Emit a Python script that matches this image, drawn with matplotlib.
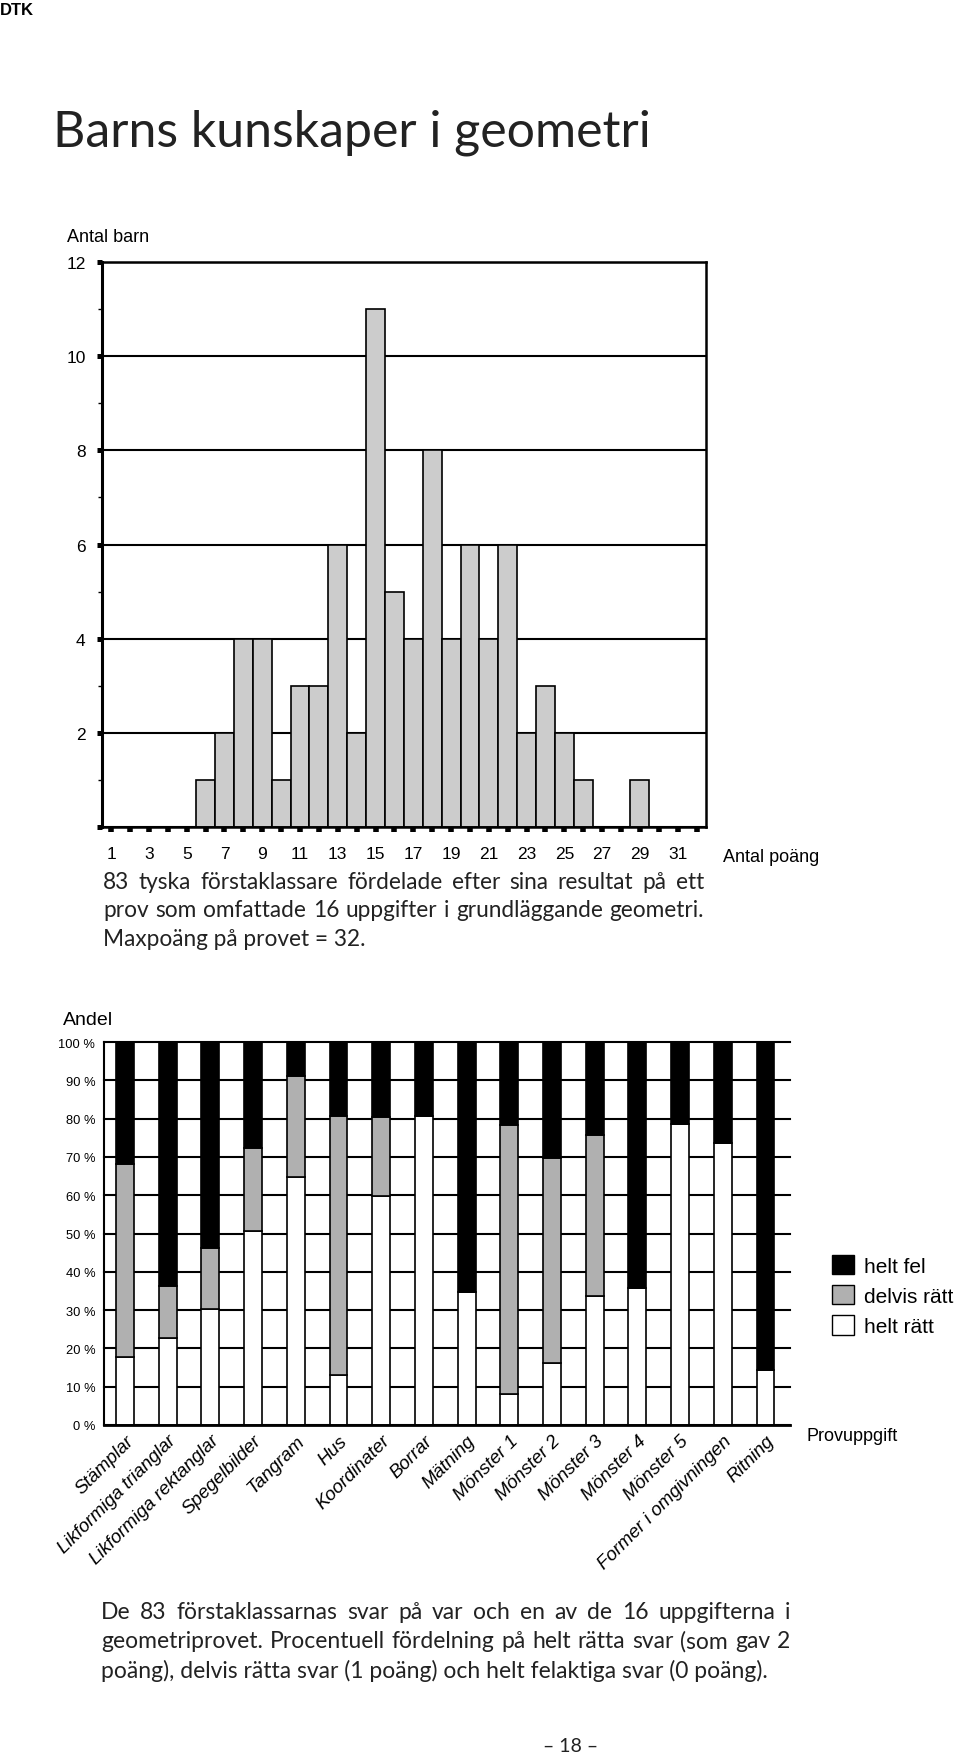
import matplotlib
matplotlib.use("Agg")
import matplotlib.pyplot as plt
from matplotlib.patches import Patch

W, H = 960, 1758

# --- data: top chart (number of children per score slot 1..32)
score_slots = list(range(1, 33))
children = [0, 0, 0, 0, 0, 1, 2, 4, 4, 1, 3, 3, 6, 2, 11, 5,
            4, 8, 4, 6, 4, 6, 2, 3, 2, 1, 0, 0, 1, 0, 0, 0]
score_labels = [str(s) if s % 2 == 1 else "" for s in score_slots]
count_ticks = [0, 2, 4, 6, 8, 10, 12]
count_labels = ["", "2", "4", "6", "8", "10", "12"]

# --- data: bottom chart (percent per task)
tasks = ["Stämplar", "Likformiga trianglar", "Likformiga rektanglar", "Spegelbilder",
         "Tangram", "Hus", "Koordinater", "Borrar", "Mätning", "Mönster 1",
         "Mönster 2", "Mönster 3", "Mönster 4", "Mönster 5",
         "Former i omgivningen", "Ritning"]
helt_ratt = [17.8, 22.8, 30.2, 50.7, 64.7, 13.0, 59.8, 80.8,
             34.8, 8.1, 16.1, 33.8, 35.7, 78.7, 73.7, 14.4]
delvis_ratt = [50.3, 13.6, 16.0, 21.6, 26.4, 67.6, 20.5, 0.0,
               0.0, 70.2, 53.5, 42.0, 0.0, 0.0, 0.0, 0.0]
helt_fel = [100 - a - b for a, b in zip(helt_ratt, delvis_ratt)]
pct_ticks = list(range(0, 101, 10))
pct_labels = [f"{p} %" for p in pct_ticks]

caption1 = ["83 tyska förstaklassare fördelade efter sina resultat på ett",
            "prov som omfattade 16 uppgifter i grundläggande geometri.",
            "Maxpoäng på provet = 32."]
caption2 = ["De 83 förstaklassarnas svar på var och en av de 16 uppgifterna i",
            "geometriprovet. Procentuell fördelning på helt rätta svar (som gav 2",
            "poäng), delvis rätta svar (1 poäng) och helt felaktiga svar (0 poäng)."]

ARIAL = "Liberation Sans"
GILL = "Lato"

fig = plt.figure(figsize=(W / 100, H / 100), dpi=100)
fig.patch.set_facecolor("white")


def fx(px):
    return px / W


def fy(py):
    return 1 - py / H


def justify(lines, x0, x1, y0, step, size):
    renderer = fig.canvas.get_renderer()
    for i, line in enumerate(lines):
        y = fy(y0 + i * step)
        words = line.split(" ")
        if i == len(lines) - 1:
            fig.text(fx(x0), y, line, family=GILL, fontsize=size, va="baseline", color="#222222")
            continue
        arts = [fig.text(0, y, w, family=GILL, fontsize=size, va="baseline", color="#222222")
                for w in words]
        widths = [a.get_window_extent(renderer).width for a in arts]
        gap = (x1 - x0 - sum(widths)) / (len(words) - 1)
        x = x0
        for a, w in zip(arts, widths):
            a.set_x(fx(x))
            x += w + gap


# header + title
fig.text(0.0, fy(15), "DTK", family=ARIAL, fontweight="bold", fontsize=12, va="baseline")
fig.text(fx(53), fy(146), "Barns kunskaper i geometri", family=GILL, fontsize=36, va="baseline",
         color="#222222")

# ---------------- top chart
ax1 = fig.add_axes([fx(101.7), fy(828), fx(706 - 101.7), (828 - 263) / H])
ax1.set_axisbelow(True)
ax1.bar(score_slots, children, width=1.0, color="#cccccc", edgecolor="black", linewidth=1.2)
ax1.set_xlim(0.5, 32.5)
ax1.set_ylim(0, 12)
ax1.set_yticks(count_ticks)
ax1.set_yticklabels(count_labels, family=ARIAL, fontsize=12.5)
ax1.set_yticks([1, 3, 5, 7, 9, 11], minor=True)
ax1.set_xticks(score_slots)
ax1.set_xticklabels(score_labels, family=ARIAL, fontsize=12.5)
ax1.tick_params(axis="y", which="major", length=3.6, width=3.6, pad=8)
ax1.tick_params(axis="y", which="minor", length=3, width=1)
ax1.tick_params(axis="x", which="major", length=3.8, width=4, pad=10)
ax1.yaxis.grid(True, color="black", linewidth=1.5)
for s in ax1.spines.values():
    s.set_linewidth(1.8)
ax1.spines["left"].set_linewidth(2.2)
fig.text(fx(67), fy(242), "Antal barn", family=ARIAL, fontsize=13, va="baseline")
fig.text(fx(723), fy(862), "Antal poäng", family=ARIAL, fontsize=13, va="baseline")

justify(caption1, 103, 704, 889, 28.5, 16.3)

# ---------------- bottom chart
ax2 = fig.add_axes([fx(103.5), fy(1426), fx(790 - 103.5), (1426 - 1043) / H])
ax2.set_axisbelow(True)
xs = list(range(len(tasks)))
bar_kw = dict(width=0.42, edgecolor="black", linewidth=1.2)
ax2.bar(xs, helt_ratt, color="white", **bar_kw)
ax2.bar(xs, delvis_ratt, bottom=helt_ratt, color="#b0b0b0", **bar_kw)
ax2.bar(xs, helt_fel, bottom=[a + b for a, b in zip(helt_ratt, delvis_ratt)], color="black", **bar_kw)
ax2.set_xlim(-0.503, 15.574)
ax2.set_ylim(0, 100)
ax2.set_yticks(pct_ticks)
ax2.set_yticklabels(pct_labels, family=ARIAL, fontsize=9.3)
ax2.set_xticks(xs)
ax2.set_xticklabels(tasks, family=ARIAL, style="italic", fontsize=13.5,
                    rotation=45, ha="right", rotation_mode="anchor")
ax2.tick_params(axis="both", length=0)
ax2.tick_params(axis="y", pad=6)
ax2.tick_params(axis="x", pad=5)
ax2.yaxis.grid(True, color="black", linewidth=1.5, clip_on=False)
for side in ["top", "right"]:
    ax2.spines[side].set_visible(False)
ax2.spines["left"].set_linewidth(1.5)
ax2.spines["bottom"].set_linewidth(2)
fig.text(fx(63), fy(1025), "Andel", family=ARIAL, fontsize=14, va="baseline")
fig.text(fx(806), fy(1441), "Provuppgift", family=ARIAL, fontsize=13, va="baseline")

handles = [Patch(facecolor="black", edgecolor="black", label="helt fel"),
           Patch(facecolor="#b0b0b0", edgecolor="black", label="delvis rätt"),
           Patch(facecolor="white", edgecolor="black", label="helt rätt")]
fig.legend(handles=handles, loc="upper left", bbox_to_anchor=(fx(832), fy(1256)),
           frameon=False, prop={"family": ARIAL, "size": 15}, handlelength=1.05,
           handleheight=1.05, handletextpad=0.5, labelspacing=0.45,
           borderpad=0, borderaxespad=0)

justify(caption2, 101, 790, 1619, 29.5, 16.5)
fig.text(fx(571), fy(1752), "– 18 –", family=GILL, fontsize=14, ha="center", va="baseline",
         color="#222222")

fig.savefig("out.png", dpi=100, facecolor="white")
